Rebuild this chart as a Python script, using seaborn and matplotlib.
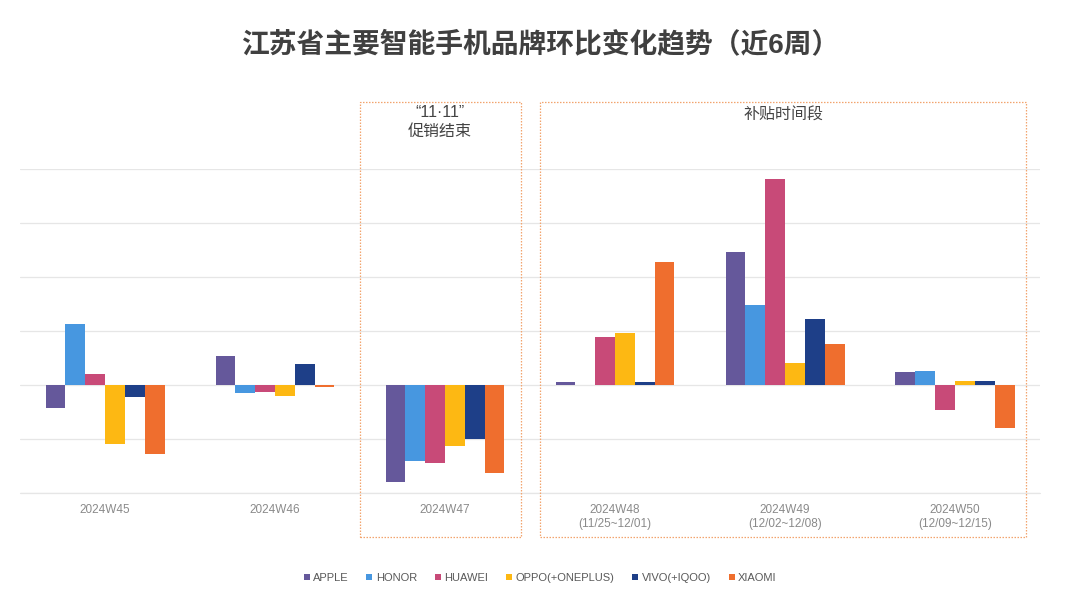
import numpy as np, pandas as pd
import matplotlib as mpl, matplotlib.pyplot as plt
import seaborn as sns
from matplotlib.patches import Rectangle
from matplotlib.transforms import blended_transform_factory

sns.set_theme(style="white")
plt.rcParams["font.family"] = ["Liberation Sans", "Noto Sans CJK SC", "DejaVu Sans"]

# 数据（环比变化，单位：%，从图中估读）
weeks = ["2024W45", "2024W46", "2024W47",
         "2024W48\n(11/25~12/01)", "2024W49\n(12/02~12/08)", "2024W50\n(12/09~12/15)"]
brands = ["APPLE", "HONOR", "HUAWEI", "OPPO(+ONEPLUS)", "VIVO(+IQOO)", "XIAOMI"]
apple  = [-4.3,  5.4, -18.0,  0.5, 24.6,  2.5]
honor  = [11.3, -1.5, -14.1,  0.0, 14.9,  2.6]
huawei = [ 2.0, -1.3, -14.5,  8.9, 38.1, -4.6]
oppo   = [-10.9, -2.0, -11.3, 9.7,  4.1,  0.8]
vivo   = [-2.2,  3.9, -10.0,  0.5, 12.3,  0.8]
xiaomi = [-12.8, -0.4, -16.3, 22.8, 7.6, -8.0]
colors = ["#65589B", "#4797E0", "#C84A78", "#FDB813", "#1E3F88", "#EF6E2E"]

series = [apple, honor, huawei, oppo, vivo, xiaomi]
df = pd.DataFrame([(w, b, v) for b, vals in zip(brands, series) for w, v in zip(weeks, vals)],
                  columns=["week", "brand", "chg"])

fig = plt.figure(figsize=(10.8, 6.07), dpi=100)
ax = fig.add_axes([20/1080, (607-493)/607, 1020/1080, (493-169)/607])
sns.barplot(data=df, x="week", y="chg", hue="brand", order=weeks, hue_order=brands,
            palette=colors, saturation=1, width=0.7, gap=0, linewidth=0, ax=ax, legend=True)

ax.set_ylim(-20, 40)
ax.set_xlim(-0.5, 5.5)
ax.set_yticks([-20, -10, 0, 10, 20, 30, 40])
ax.set_yticklabels([])
ax.grid(axis="y", color="#E6E6E6", lw=0.9)
ax.axhline(-20, color="#E6E6E6", lw=0.9, clip_on=False, zorder=0)
ax.set_axisbelow(True)
for s in ax.spines.values():
    s.set_visible(False)
ax.tick_params(axis="both", length=0, pad=8)
ax.tick_params(axis="x", labelsize=8.5, labelcolor="#8A8A8A")
ax.set_xlabel(None); ax.set_ylabel(None)

# 虚线框标注
tr = blended_transform_factory(ax.transData, fig.transFigure)
y0, y1 = (607-537)/607, (607-102)/607
for xa, xb in [(1.5, 2.447), (2.559, 5.418)]:
    fig.add_artist(Rectangle((xa, y0), xb-xa, y1-y0, transform=tr, fill=False,
                             ec="#F2A46E", lw=0.9, ls=(0, (1.2, 1.2)), clip_on=False))
ax.text(1.97, (607-105)/607, "\u201c11\u00b711\u201d\n促销结束", transform=tr, ha="center", va="top",
        fontsize=11.5, color="#444444", linespacing=1.3)
ax.text(3.99, (607-107)/607, "补贴时间段", transform=tr, ha="center", va="top",
        fontsize=11.5, color="#444444")

fig.text(0.5, (607-45)/607, "江苏省主要智能手机品牌环比变化趋势（近6周）", ha="center", va="center",
         fontsize=20, fontweight="bold", color="#404040")

h, l = ax.get_legend_handles_labels()
ax.legend(h, l, loc="center", bbox_to_anchor=(0.5, (607-578)/607), bbox_transform=fig.transFigure,
          ncol=6, frameon=False, fontsize=8, handlelength=0.55, handleheight=0.55,
          handletextpad=0.3, columnspacing=1.6, labelcolor="#595959")

fig.savefig("out.png", dpi=100)
